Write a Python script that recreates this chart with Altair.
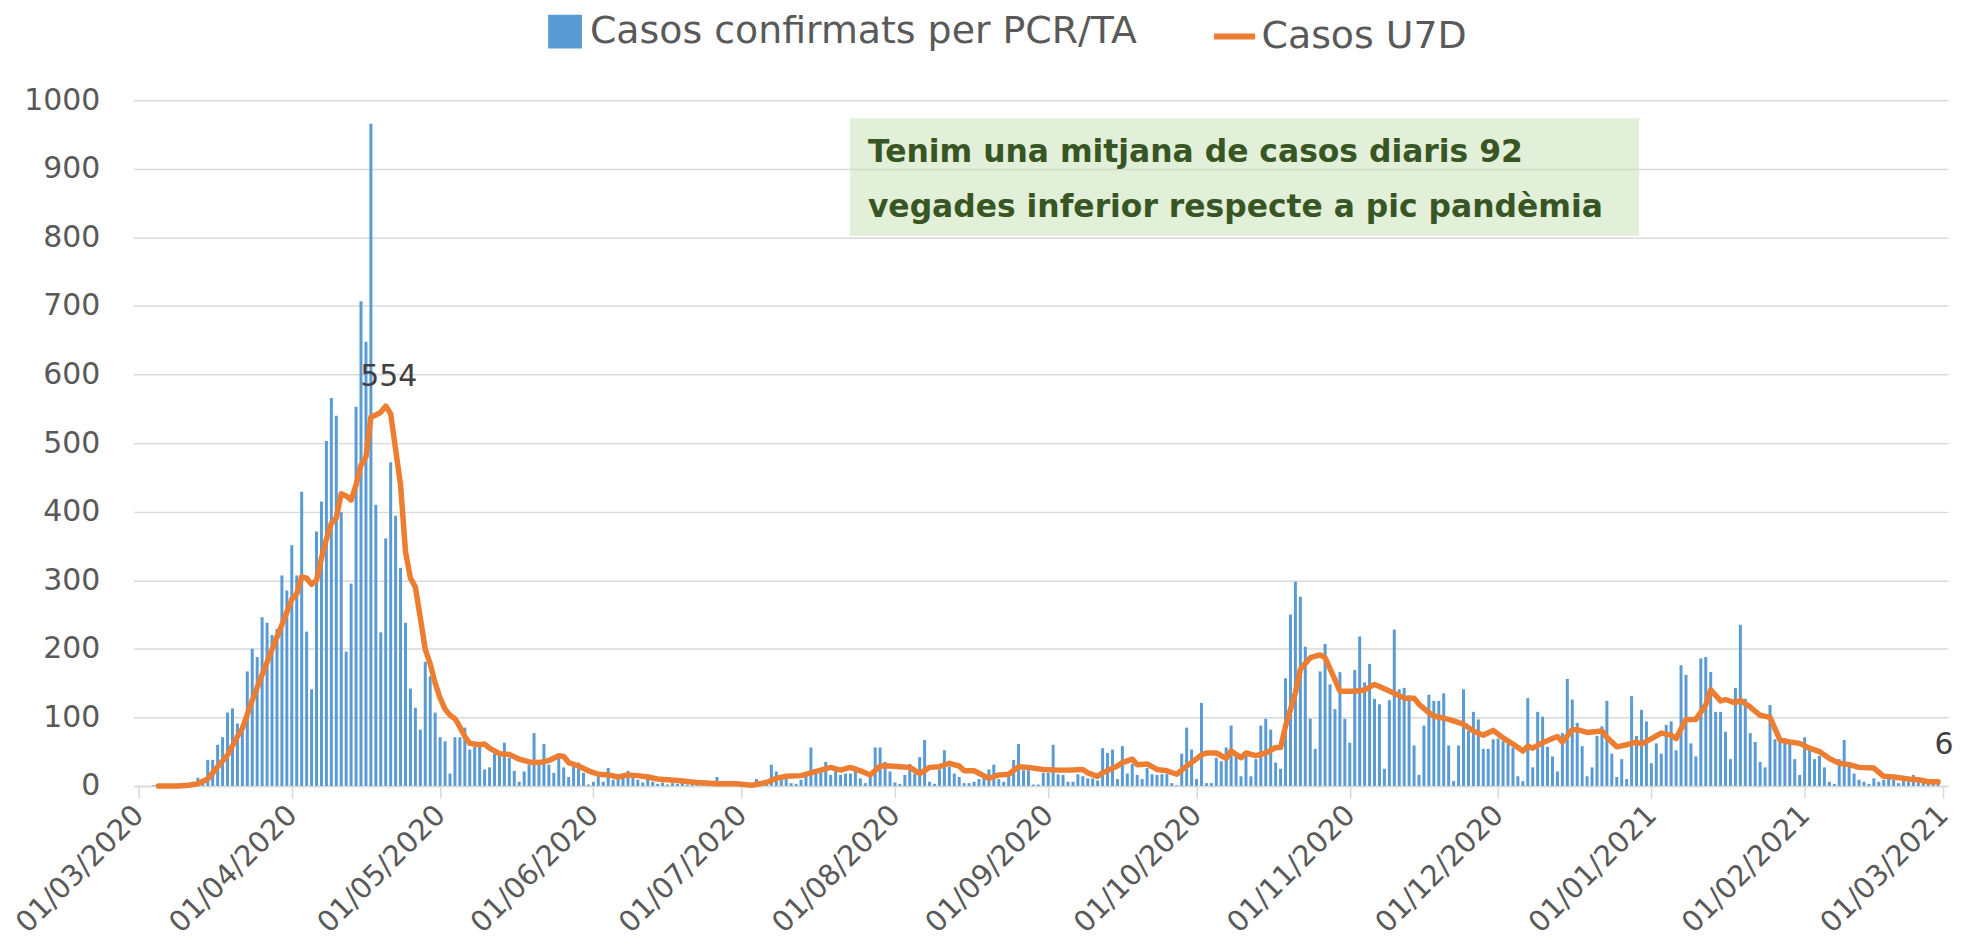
import altair as alt
import pandas as pd

START = "2020-03-01"

# Daily confirmed cases (PCR/TA), one value per day from 01/03/2020 to 28/02/2021
cases = [
    0, 0, 0, 1, 1, 0, 2, 1, 3, 2, 4,
    6, 12, 5, 38, 38, 60, 71, 107, 113, 91,
    81, 167, 200, 188, 246, 238, 220, 229, 307, 285,
    351, 307, 429, 225, 141, 371, 415, 503, 566, 540,
    399, 196, 295, 553, 707, 648, 966, 410, 224, 361,
    472, 394, 318, 238, 142, 114, 82, 181, 160, 107,
    71, 65, 18, 71, 71, 85, 53, 57, 57, 24,
    27, 47, 45, 63, 41, 22, 6, 21, 31, 77,
    31, 61, 31, 19, 47, 27, 13, 28, 34, 19,
    2, 6, 14, 6, 26, 9, 11, 14, 22, 14,
    9, 5, 17, 6, 3, 5, 2, 4, 3, 6,
    2, 3, 4, 2, 3, 5, 13, 3, 2, 4,
    3, 2, 1, 3, 10, 4, 6, 31, 21, 11,
    10, 4, 3, 9, 16, 56, 21, 21, 35, 16,
    23, 16, 18, 18, 28, 11, 4, 13, 56, 56,
    35, 21, 5, 3, 16, 32, 18, 42, 67, 6,
    3, 24, 52, 28, 18, 13, 4, 4, 6, 10,
    16, 24, 31, 10, 6, 15, 38, 61, 23, 23,
    2, 2, 19, 19, 60, 17, 16, 6, 6, 17,
    14, 11, 11, 8, 55, 48, 53, 10, 58, 18,
    32, 16, 10, 26, 17, 16, 17, 17, 4, 1,
    47, 85, 53, 10, 121, 4, 4, 41, 36, 56,
    88, 48, 14, 48, 14, 39, 88, 98, 82, 34,
    25, 157, 250, 298, 276, 203, 98, 54, 167, 207,
    148, 112, 166, 98, 63, 169, 218, 151, 178, 127,
    119, 25, 125, 228, 141, 143, 132, 59, 16, 88,
    133, 124, 124, 135, 59, 7, 59, 141, 80, 108,
    97, 54, 54, 68, 69, 65, 61, 56, 14, 7,
    128, 27, 108, 101, 57, 43, 21, 77, 156, 126,
    92, 58, 14, 27, 73, 87, 124, 47, 13, 39,
    10, 131, 73, 111, 94, 33, 62, 47, 89, 94,
    52, 176, 162, 62, 43, 186, 188, 166, 108, 108,
    79, 39, 143, 235, 127, 77, 64, 35, 27, 118,
    68, 69, 69, 64, 39, 16, 71, 53, 39, 44,
    27, 6, 3, 39, 67, 31, 18, 9, 6, 3,
    11, 6, 9, 16, 9, 4, 9, 6, 16, 6,
    6, 4, 4, 3,
]

# 7-day average (U7D): day offset from 01/03/2020 and value
line_days = [
    4, 8, 10, 12, 14, 16, 18, 20, 21, 23, 25, 27, 29, 31, 32, 33, 34, 35, 36, 37,
    38, 39, 40, 41, 42, 43, 44, 45, 46, 47, 48, 49, 50, 51, 52, 53, 54, 55, 56, 57,
    58, 59, 60, 61, 62, 63, 64, 65, 66, 67, 69, 70, 71, 73, 75, 77, 79, 81, 83, 85,
    86, 87, 89, 91, 93, 95, 97, 99, 101, 103, 105, 109, 113, 117, 121, 124, 127, 129, 131, 134,
    136, 138, 140, 142, 144, 146, 148, 150, 152, 154, 156, 158, 160, 162, 164, 166, 167, 169, 172, 174,
    176, 178, 180, 183, 186, 188, 191, 192, 194, 195, 198, 199, 201, 202, 204, 206, 208, 210, 212, 213,
    215, 216, 218, 220, 221, 223, 224, 226, 228, 230, 231, 232, 234, 235, 237, 239, 240, 242, 243, 246,
    248, 250, 251, 254, 256, 258, 259, 261, 262, 265, 268, 270, 272, 274, 276, 278, 280, 281, 282, 284,
    286, 287, 288, 290, 291, 293, 296, 297, 299, 301, 303, 304, 306, 308, 310, 311, 313, 315, 317, 318,
    320, 321, 323, 324, 326, 328, 330, 332, 334, 336, 338, 340, 342, 344, 346, 348, 351, 353, 355, 358,
    360, 362, 364,
]
line_vals = [
    0, 0, 1, 3, 10, 28, 45, 72, 84, 125, 162, 199, 235, 272, 280, 305, 303, 294, 300, 332,
    360, 383, 391, 426, 423, 417, 439, 468, 480, 538, 541, 545, 554, 543, 491, 439, 342, 303, 290, 245,
    199, 178, 150, 128, 112, 103, 98, 86, 72, 62, 60, 61, 55, 47, 46, 39, 35, 34, 37, 44,
    43, 34, 29, 22, 17, 16, 13, 16, 15, 13, 10, 8, 5, 3, 3, 1, 5, 11, 14, 15,
    19, 23, 27, 23, 27, 22, 16, 29, 29, 28, 27, 18, 27, 28, 33, 29, 22, 22, 11, 16,
    17, 28, 27, 24, 23, 23, 24, 19, 14, 19, 29, 34, 39, 31, 32, 24, 22, 17, 29, 34,
    45, 48, 48, 40, 51, 41, 48, 44, 48, 56, 56, 87, 136, 170, 187, 191, 187, 155, 138, 138,
    140, 148, 145, 135, 128, 128, 119, 107, 102, 97, 90, 80, 74, 81, 70, 61, 51, 58, 55, 63,
    69, 72, 64, 82, 82, 78, 80, 71, 57, 60, 64, 61, 69, 77, 74, 69, 97, 97, 118, 140,
    124, 126, 121, 125, 115, 103, 100, 67, 64, 62, 55, 50, 40, 33, 31, 27, 26, 14, 13, 10,
    9, 6, 6,
]

# Point labels on the curve
label_days = [50, 364]
label_texts = ["554", "6"]

SERIE_BAR = "Casos confirmats per PCR/TA"
SERIE_LINE = "Casos U7D"
NOTE_1 = "Tenim una mitjana de casos diaris 92"
NOTE_2 = "vegades inferior respecte a pic pandèmia"

FONT = "DejaVu Sans"
GREY = "#595959"
GRID = "#D9D9D9"


def day_to_date(d):
    return (pd.Timestamp(START) + pd.Timedelta(days=int(d))).strftime("%Y-%m-%d")


bars_df = pd.DataFrame({
    "date": [day_to_date(i) for i in range(len(cases))],
    "cases": cases,
    "serie": SERIE_BAR,
})
line_df = pd.DataFrame({
    "date": [day_to_date(d) for d in line_days],
    "u7d": line_vals,
    "serie": SERIE_LINE,
})
lbl_vals = [line_vals[line_days.index(d)] for d in label_days]
peak_df = pd.DataFrame({"date": [day_to_date(label_days[0])], "v": [lbl_vals[0]], "t": [label_texts[0]]})
end_df = pd.DataFrame({"date": [day_to_date(label_days[1])], "v": [lbl_vals[1]], "t": [label_texts[1]]})
one_df = pd.DataFrame({"k": [0]})

month_ticks = [alt.DateTime(year=2020 + (m - 1) // 12, month=(m - 1) % 12 + 1, date=1, utc=True)
               for m in range(3, 16)]

x_scale = alt.Scale(
    type="utc",
    domain=[alt.DateTime(year=2020, month=3, date=1, utc=True),
            alt.DateTime(year=2021, month=3, date=1, utc=True)],
)
x_axis = alt.Axis(
    values=month_ticks,
    labelExpr="utcFormat(datum.value, '%d/%m/%Y')",
    labelAngle=-45,
    labelAlign="right",
    labelBaseline="middle",
    labelFont=FONT,
    labelFontSize=29,
    labelColor=GREY,
    labelPadding=12,
    labelOverlap=False,
    labelFlush=False,
    tickSize=12,
    tickColor=GRID,
    tickWidth=1.5,
    domainColor=GRID,
    domainWidth=1.5,
    grid=False,
    title=None,
)
y_scale = alt.Scale(domain=[0, 1000], nice=False)
y_axis = alt.Axis(
    values=list(range(0, 1001, 100)),
    format="d",
    grid=True,
    gridColor=GRID,
    gridWidth=1.5,
    domain=False,
    ticks=False,
    tickSize=0,
    labelPadding=34,
    labelFont=FONT,
    labelFontSize=30,
    labelColor=GREY,
    title=None,
)

bars = alt.Chart(bars_df).mark_bar(width=3).encode(
    x=alt.X("date:T", scale=x_scale, axis=x_axis),
    y=alt.Y("cases:Q", scale=y_scale, axis=y_axis),
    color=alt.Color(
        "serie:N",
        scale=alt.Scale(range=["#5B9BD5"]),
        legend=alt.Legend(
            title=None, orient="none", legendX=414, legendY=-88,
            symbolType="square", symbolSize=1150, symbolStrokeWidth=0,
            labelFont=FONT, labelFontSize=38, labelColor=GREY,
            labelOffset=6, labelLimit=0, padding=0,
        ),
    ),
)

line = alt.Chart(line_df).mark_line(
    strokeWidth=5.5, strokeCap="round", strokeJoin="round"
).encode(
    x=alt.X("date:T", scale=x_scale, axis=x_axis),
    y=alt.Y("u7d:Q", scale=y_scale, axis=y_axis),
    stroke=alt.Stroke(
        "serie:N",
        scale=alt.Scale(range=["#ED7D31"]),
        legend=alt.Legend(
            title=None, orient="none", legendX=1081, legendY=-88,
            symbolType="stroke", symbolSize=1700, symbolStrokeWidth=6,
            labelFont=FONT, labelFontSize=38, labelColor=GREY,
            labelOffset=3, labelLimit=0, padding=0,
        ),
    ),
)

peak_lbl = alt.Chart(peak_df).mark_text(
    font=FONT, fontSize=30, color="#404040", dx=3, dy=-29, baseline="middle"
).encode(x="date:T", y="v:Q", text="t:N")

end_lbl = alt.Chart(end_df).mark_text(
    font=FONT, fontSize=30, color="#404040", dx=6, dy=-37, baseline="middle"
).encode(x="date:T", y="v:Q", text="t:N")

box = alt.Chart(one_df).mark_rect(color="#C6E0B4", opacity=0.5).encode(
    x=alt.value(719), x2=alt.value(1511), y=alt.value(18), y2=alt.value(136)
)
note1 = alt.Chart(one_df).mark_text(
    text=NOTE_1, font=FONT, fontSize=31.5, fontWeight="bold", color="#375623",
    align="left", baseline="alphabetic"
).encode(x=alt.value(737), y=alt.value(62))
note2 = alt.Chart(one_df).mark_text(
    text=NOTE_2, font=FONT, fontSize=31.5, fontWeight="bold", color="#375623",
    align="left", baseline="alphabetic"
).encode(x=alt.value(737), y=alt.value(117))

chart = alt.layer(box, bars, line, peak_lbl, end_lbl, note1, note2).properties(
    width=1821,
    height=688,
    autosize=alt.AutoSizeParams(type="none"),
    padding={"left": 126, "top": 91, "right": 12, "bottom": 161},
).configure_view(stroke=None).resolve_legend(color="independent", stroke="independent")

chart.save("out.html", embed_options={"renderer": "svg", "actions": False})
